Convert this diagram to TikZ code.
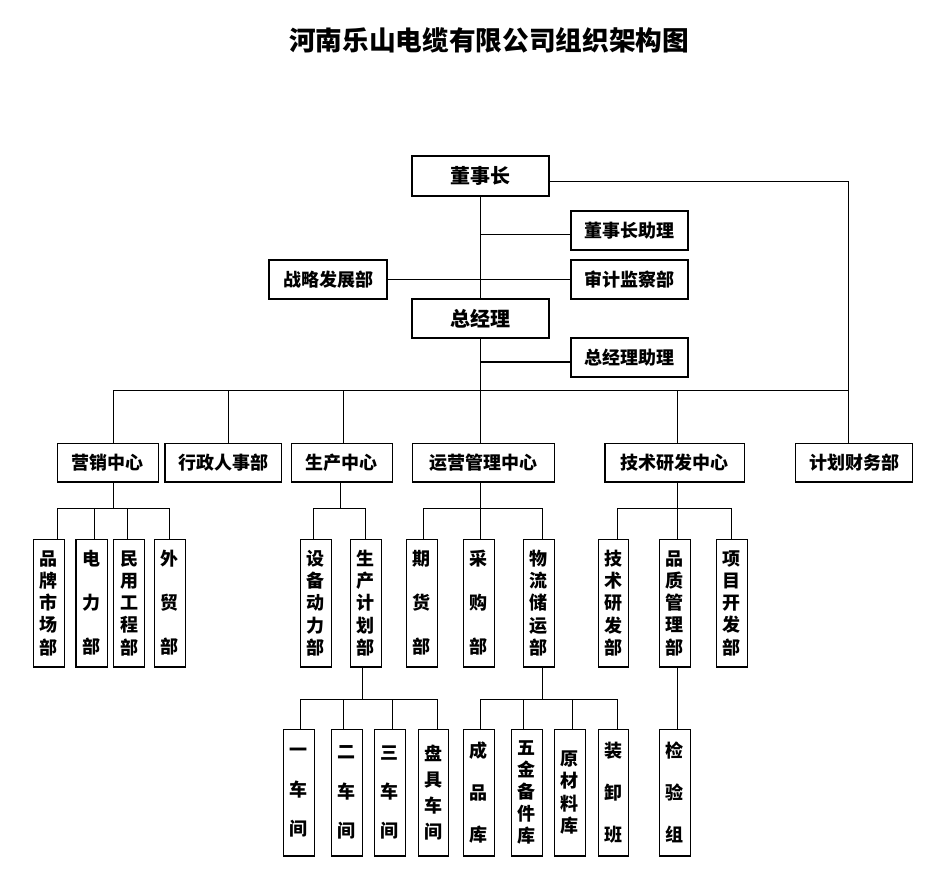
\documentclass[tikz,border=0pt]{standalone}
\usepackage{fontspec}
\setmainfont{Noto Sans CJK SC}
\newcommand\bxx[7][]{%
  \pgfmathsetmacro\bxw{(#5-#3)*0.75}%
  \pgfmathsetmacro\bxh{(#6-#4)*0.75}%
  \node[box,minimum width=\bxw pt,minimum height=\bxh pt,#1] (#2) at ({(#3+#5)/2},{(#4+#6)/2}) {#7};}
\begin{document}
\begin{tikzpicture}[x=0.75pt,y=-0.75pt,line width=1pt,
  box/.style={draw,inner sep=0pt,align=center,font=\bfseries\fontsize{13.5}{16}\selectfont},
  big/.style={font=\bfseries\fontsize{15}{18}\selectfont},
  vs/.style={font=\bfseries\fontsize{13.5}{#1}\selectfont}]
\useasboundingbox[fill=white] (0,0) rectangle (947,879);
\node[font=\bfseries\fontsize{20}{24}\selectfont] (title) at (489,40) {河南乐山电缆有限公司组织架构图};
% level 1
\bxx[big]{dsz}{412}{156}{549}{196}{董事长}
\bxx{dszzl}{571}{211}{688}{250}{董事长助理}
\bxx{zlfz}{269}{260}{387}{299}{战略发展部}
\bxx{sjjc}{571}{260}{688}{299}{审计监察部}
\bxx[big]{zjl}{412}{299}{549}{338}{总经理}
\bxx{zjlzl}{571}{338}{688}{377}{总经理助理}
% level 2
\bxx{yx}{57.3}{443.3}{158.3}{482}{营销中心}
\bxx{xz}{165}{443.3}{281.3}{482}{行政人事部}
\bxx{sc}{291.3}{443.3}{392.3}{482}{生产中心}
\bxx{yy}{412.5}{443.3}{554.5}{482}{运营管理中心}
\bxx{js}{605}{443.3}{744.5}{482}{技术研发中心}
\bxx{cw}{795.5}{443.3}{912.5}{482}{计划财务部}
% level 3
\bxx[vs=16.7]{pp}{33.3}{539.3}{64.3}{667}{品\\牌\\市\\场\\部}
\bxx[vs=33]{dl}{76}{539.3}{107.3}{667}{电\\力\\部}
\bxx[vs=16.7]{my}{113.3}{539.3}{144.7}{667}{民\\用\\工\\程\\部}
\bxx[vs=33]{wm}{154.3}{539.3}{185.3}{667}{外\\贸\\部}
\bxx[vs=16.7]{sb}{300.3}{539.3}{331.3}{667}{设\\备\\动\\力\\部}
\bxx[vs=16.7]{scjh}{350.3}{539.3}{381.3}{667}{生\\产\\计\\划\\部}
\bxx[vs=33]{qh}{406.4}{539.3}{437.2}{667}{期\\货\\部}
\bxx[vs=33]{cg}{463.2}{539.3}{494.3}{667}{采\\购\\部}
\bxx[vs=16.7]{wl}{523.4}{539.3}{554.5}{667}{物\\流\\储\\运\\部}
\bxx[vs=16.7]{jsyf}{598.4}{539.3}{628.5}{667}{技\\术\\研\\发\\部}
\bxx[vs=16.7]{pz}{659.3}{539.3}{690.4}{667}{品\\质\\管\\理\\部}
\bxx[vs=16.7]{xm}{716.4}{539.3}{747.5}{667}{项\\目\\开\\发\\部}
% level 4
\bxx[vs=29.5]{c1}{283.3}{729.3}{314.3}{856}{一\\车\\间}
\bxx[vs=29.5]{c2}{331.3}{729.3}{362.3}{856}{二\\车\\间}
\bxx[vs=29.5]{c3}{374.3}{729.3}{405.3}{856}{三\\车\\间}
\bxx[vs=19.3]{pj}{418.3}{729.3}{448.3}{856}{盘\\具\\车\\间}
\bxx[vs=31.5]{cp}{463.3}{729.3}{494.3}{856}{成\\品\\库}
\bxx[vs=16.5]{wj}{511.3}{729.3}{542.3}{856}{五\\金\\备\\件\\库}
\bxx[vs=16.8]{ycl}{554.3}{729.3}{585.3}{856}{原\\材\\料\\库}
\bxx[vs=31.5]{zx}{598.3}{729.3}{628.3}{856}{装\\卸\\班}
\bxx[vs=31.5]{jy}{659.3}{729.3}{690.4}{856}{检\\验\\组}
% connectors level 1
\draw (dsz.south) -- (dsz.south |- zjl.north);
\coordinate (t1) at (480.5,234.3);
\draw (t1) -- (t1 -| dszzl.west);
\draw (zlfz.east) -- (sjjc.west);
\coordinate (t2) at (480.5,362);
\draw (t2) -- (t2 -| zjlzl.west);
\coordinate (r1) at (848.3,181.7);
\draw (r1 -| dsz.east) -- (r1) -- (r1 |- cw.north);
% bus level 2
\draw (zjl.south) -- (zjl.south |- yy.north);
\coordinate (bL) at (113.3,390.3);
\coordinate (bR) at (848.3,390.3);
\draw (bL) -- (bR);
\draw (bL) -- (bL |- yx.north);
\coordinate (d2) at (228.7,390.3);
\draw (d2) -- (d2 |- xz.north);
\coordinate (d3) at (343.3,390.3);
\draw (d3) -- (d3 |- sc.north);
\coordinate (d5) at (677.6,390.3);
\draw (d5) -- (d5 |- js.north);
% level 3 buses
\coordinate (yxL) at (57.3,508.3);
\coordinate (yxR) at (169.3,508.3);
\coordinate (yxM) at (113.3,508.3);
\draw (yxM |- yx.south) -- (yxM);
\draw (yxL) -- (yxR);
\draw (yxL) -- (yxL |- pp.north);
\coordinate (e2) at (94.3,508.3);
\draw (e2) -- (e2 |- dl.north);
\coordinate (e3) at (127.3,508.3);
\draw (e3) -- (e3 |- my.north);
\draw (yxR) -- (yxR |- wm.north);
\coordinate (scL) at (313.3,508.3);
\coordinate (scR) at (365.3,508.3);
\coordinate (scM) at (340.7,508.3);
\draw (scM |- sc.south) -- (scM);
\draw (scL) -- (scR);
\draw (scL) -- (scL |- sb.north);
\draw (scR) -- (scR |- scjh.north);
\coordinate (yyL) at (423.3,508.3);
\coordinate (yyR) at (542.3,508.3);
\coordinate (yyM) at (480.5,508.3);
\draw (yyM |- yy.south) -- (yyM |- cg.north);
\draw (yyL) -- (yyR);
\draw (yyL) -- (yyL |- qh.north);
\draw (yyR) -- (yyR |- wl.north);
\coordinate (jsL) at (617.4,508.3);
\coordinate (jsR) at (731.3,508.3);
\coordinate (jsM) at (677.6,508.3);
\draw (jsM |- js.south) -- (jsM |- pz.north);
\draw (jsL) -- (jsR);
\draw (jsL) -- (jsL |- jsyf.north);
\draw (jsR) -- (jsR |- xm.north);
% level 4 buses
\coordinate (f0) at (362.3,699.3);
\draw (f0 |- scjh.south) -- (f0);
\coordinate (fL) at (300.3,699.3);
\coordinate (fR) at (437.3,699.3);
\draw (fL) -- (fR);
\draw (fL) -- (fL |- c1.north);
\coordinate (f2) at (343.7,699.3);
\draw (f2) -- (f2 |- c2.north);
\coordinate (f3) at (392.7,699.3);
\draw (f3) -- (f3 |- c3.north);
\draw (fR) -- (fR |- pj.north);
\coordinate (g0) at (542.3,699.3);
\draw (g0 |- wl.south) -- (g0);
\coordinate (gL) at (480.3,699.3);
\coordinate (gR) at (617.7,699.3);
\draw (gL) -- (gR);
\draw (gL) -- (gL |- cp.north);
\coordinate (g2) at (523.3,699.3);
\draw (g2) -- (g2 |- wj.north);
\coordinate (g3) at (572.3,699.3);
\draw (g3) -- (g3 |- ycl.north);
\draw (gR) -- (gR |- zx.north);
\coordinate (h0) at (677.6,699.3);
\draw (h0 |- pz.south) -- (h0 |- jy.north);
\end{tikzpicture}
\end{document}
